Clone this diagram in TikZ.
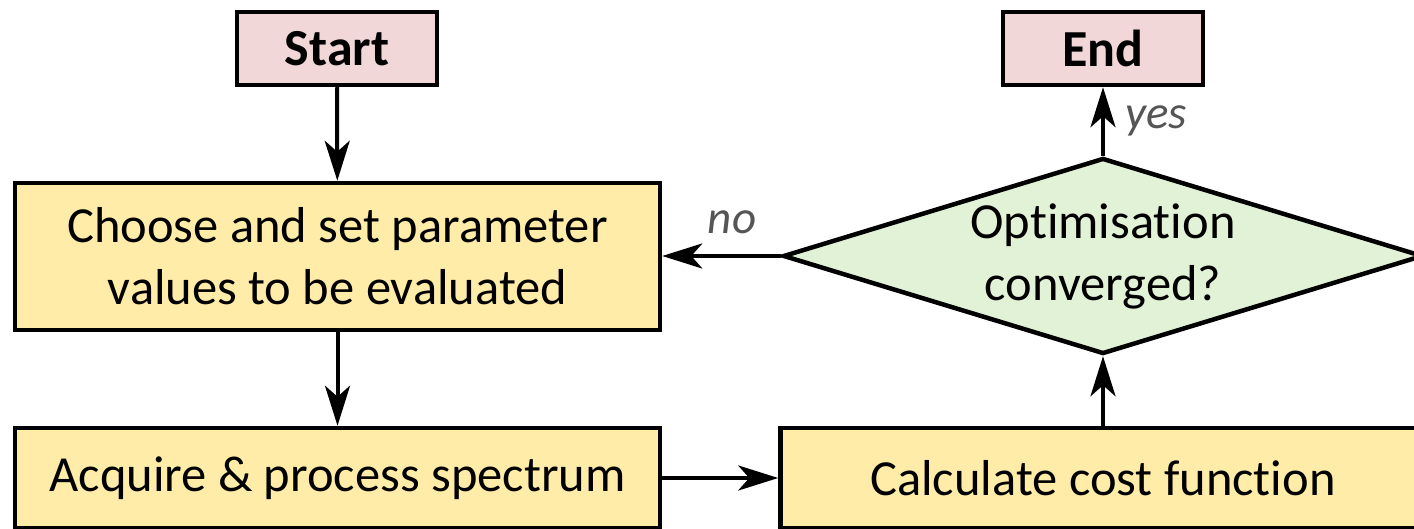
\documentclass[tikz,border=0pt]{standalone}
\usepackage{fontspec}
\setmainfont{Carlito}[Ligatures=NoCommon]
\usetikzlibrary{shapes.geometric,arrows.meta}
\definecolor{pinkfill}{HTML}{F2D7D9}
\definecolor{yellowfill}{HTML}{FFECA8}
\definecolor{greenfill}{HTML}{E2F2D6}
\definecolor{labelgray}{HTML}{555555}
\begin{document}
\begin{tikzpicture}[x=1pt,y=1pt,
  every node/.style={font=\fontsize{50.5}{62}\selectfont},
  termbox/.style={draw=black, line width=4.5pt, fill=pinkfill, minimum width=200pt, minimum height=73pt, inner sep=0pt, font=\fontsize{52}{62}\selectfont\bfseries},
  procbox/.style={draw=black, line width=4.5pt, fill=yellowfill, minimum width=645pt, inner sep=0pt, align=center},
  decbox/.style={draw=black, line width=4.5pt, fill=greenfill, diamond, shape aspect=3.27, minimum width=640pt, minimum height=196pt, inner sep=0pt, align=center},
  flow/.style={line width=4pt, -{Stealth[length=40pt,width=25pt,inset=11pt]}},
  answer/.style={text=labelgray, font=\fontsize{47}{55}\selectfont\itshape}
]
\useasboundingbox (0,0) rectangle (1414,-529);
\node[termbox] (start) at (337,-48.5) {Start};
\node[termbox] (end) at (1103,-48.5) {End};
\node[procbox, minimum height=147pt] (choose) at (337.5,-256.5) {Choose and set parameter\\values to be evaluated};
\node[procbox, minimum height=100pt] (acquire) at (337.5,-478) {Acquire \& process spectrum};
\node[procbox, minimum height=100pt] (cost) at (1103,-478) {Calculate cost function};
\node[decbox] (dec) at (1103,-256) {Optimisation\\converged?};
\node[answer] (yes) at (1156,-121) {yes};
\node[answer] (no) at (732,-222) {no};
\draw[flow] (start) -- (choose);
\draw[flow] (choose) -- (acquire);
\draw[flow] (acquire) -- (cost);
\draw[flow] (cost) -- (dec);
\draw[flow] (dec.north) -- (end);
\draw[flow] (dec.west) -- (dec.west -| choose.east);
\end{tikzpicture}
\end{document}
